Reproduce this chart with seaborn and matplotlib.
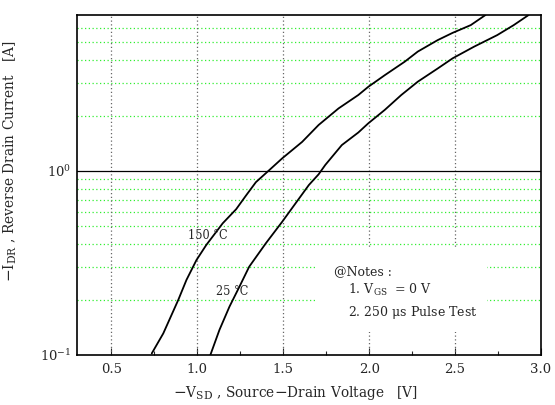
import matplotlib
matplotlib.use("Agg")
import matplotlib.pyplot as plt
import seaborn as sns
import pandas as pd
from matplotlib.ticker import FixedLocator, NullFormatter, LogFormatterMathtext, MultipleLocator
from matplotlib.patches import Rectangle

# ---- data ----
vsd_150 = [0.735, 0.802, 0.889, 0.937, 0.995, 1.052, 1.148, 1.226, 1.283, 1.341, 1.418, 1.494,
           1.610, 1.706, 1.822, 1.937, 1.995, 2.091, 2.207, 2.283, 2.399, 2.486, 2.591, 2.677]
idr_150 = [0.102, 0.131, 0.199, 0.256, 0.328, 0.396, 0.520, 0.620, 0.735, 0.870, 1.01, 1.172,
           1.440, 1.780, 2.19, 2.59, 2.87, 3.32, 3.93, 4.46, 5.15, 5.64, 6.21, 7.05]
vsd_25 = [1.076, 1.129, 1.187, 1.245, 1.302, 1.399, 1.494, 1.572, 1.649, 1.706, 1.745, 1.841,
          1.937, 1.995, 2.091, 2.187, 2.283, 2.399, 2.486, 2.610, 2.745, 2.841, 2.928]
idr_25 = [0.100, 0.137, 0.183, 0.235, 0.302, 0.405, 0.530, 0.668, 0.839, 0.960, 1.08, 1.384,
          1.62, 1.817, 2.15, 2.59, 3.06, 3.61, 4.10, 4.74, 5.48, 6.21, 7.05]
series_labels = ["150 °C", "25 °C"]
x_ticks = [0.5, 1.0, 1.5, 2.0, 2.5, 3.0]
x_tick_labels = ["0.5", "1.0", "1.5", "2.0", "2.5", "3.0"]
notes = ["@Notes :", "1. V$_{\\mathrm{GS}}$  = 0 V", "2. 250 $\\mathrm{\\mu}$s Pulse Test"]

df = pd.concat([
    pd.DataFrame({"vsd": vsd_150, "idr": idr_150, "T": series_labels[0]}),
    pd.DataFrame({"vsd": vsd_25, "idr": idr_25, "T": series_labels[1]}),
])

sns.set_style("white")
plt.rcParams["font.family"] = ["DejaVu Serif"]
plt.rcParams["mathtext.fontset"] = "dejavuserif"

fig = plt.figure(figsize=(5.55, 4.05), dpi=100)
ax = fig.add_axes([77/555, 1-355/405, (541-77)/555, (355-15)/405])

sns.lineplot(data=df, x="vsd", y="idr", units="T", estimator=None, sort=False,
             color="black", linewidth=1.3, ax=ax, legend=False, zorder=3)

ax.set_yscale("log")
ax.set_xlim(0.3, 3.0)
ax.set_ylim(0.1, 7.05)

ax.xaxis.set_major_locator(FixedLocator(x_ticks))
ax.set_xticklabels(x_tick_labels)
ax.xaxis.set_minor_locator(MultipleLocator(0.25))
ax.yaxis.set_major_locator(FixedLocator([0.1, 1.0]))
ax.yaxis.set_major_formatter(LogFormatterMathtext())
ax.yaxis.set_minor_locator(FixedLocator([0.2, 0.3, 0.4, 0.5, 0.6, 0.7, 0.8, 0.9, 2, 3, 4, 5, 6]))
ax.yaxis.set_minor_formatter(NullFormatter())

ax.tick_params(axis="x", which="major", direction="in", length=5, width=0.8, labelsize=9.5, pad=6, bottom=True)
ax.tick_params(axis="x", which="minor", direction="in", length=3, width=0.8, bottom=True)
ax.tick_params(axis="y", which="both", length=0, labelsize=9.5, pad=4)

ax.grid(False)
# vertical gray dotted grid at the major x ticks
for xv in x_ticks[:-1]:
    ax.axvline(xv, color="#666666", linestyle=(0, (1, 2)), linewidth=0.9, zorder=1)
# green dotted minor grid on the log axis
ax.grid(True, axis="y", which="minor", color="#33ee33", linestyle=(0, (1, 2)), linewidth=0.9, zorder=0.8)
ax.set_axisbelow(True)
ax.axhline(1.0, color="black", linewidth=0.9, zorder=2)

for s in ax.spines.values():
    s.set_color("black")
    s.set_linewidth(1.2)

# white box behind notes
ax.add_patch(Rectangle((0.517, 0.068), 0.367, 0.245, transform=ax.transAxes,
                       facecolor="white", edgecolor="none", zorder=1.5))

ax.text(0.554, 0.245, notes[0], transform=ax.transAxes, fontsize=9, va="center", zorder=4)
ax.text(0.583, 0.19, notes[1], transform=ax.transAxes, fontsize=9, va="center", zorder=4)
ax.text(0.583, 0.125, notes[2], transform=ax.transAxes, fontsize=9, va="center", zorder=4)

ax.text(0.944, 0.449, series_labels[0], fontsize=9, va="center", ha="left", zorder=4, fontstretch="condensed")
ax.text(1.11, 0.221, series_labels[1], fontsize=9, va="center", ha="left", zorder=4, fontstretch="condensed")

ax.set_xlabel("$-$V$_{\\mathrm{SD}}$ , Source$-$Drain Voltage   [V]", fontsize=11, fontstretch="condensed")
ax.set_ylabel("$-$I$_{\\mathrm{DR}}$ , Reverse Drain Current   [A]", fontsize=11, fontstretch="condensed")
ax.xaxis.set_label_coords(0.47, -0.085)
ax.yaxis.set_label_coords(-0.125, 0.57)

fig.savefig("out.png", dpi=100)
